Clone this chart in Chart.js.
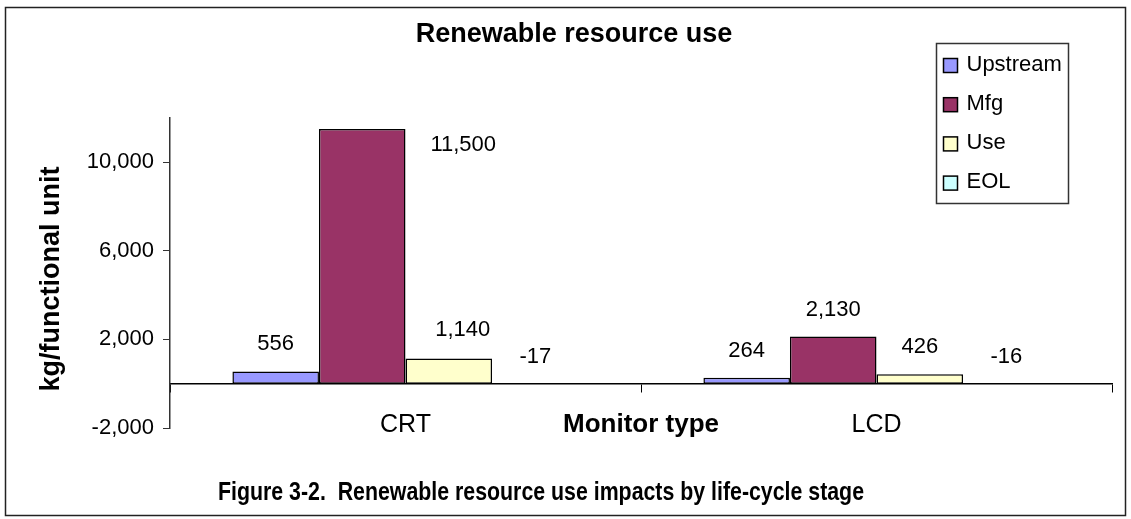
<!DOCTYPE html>
<html>
<head>
<meta charset="utf-8">
<script src="https://cdn.jsdelivr.net/npm/chart.js@4.4.1/dist/chart.umd.min.js"></script>
<style>
  html, body { margin: 0; padding: 0; background: #fff; }
  canvas { display: block; }
</style>
</head>
<body>
<canvas id="resource-chart" width="1131" height="519"></canvas>
<script>
// chart values
const categories = ['CRT', 'LCD'];
const stages = ['Upstream', 'Mfg', 'Use', 'EOL'];
const upstream = [556, 264];
const mfg = [11500, 2130];
const use = [1140, 426];
const eol = [-17, -16];
const yTicks = [-2000, 2000, 6000, 10000];

const stageColors = ['#9999ff', '#993366', '#ffffcc', '#ccffff'];
const font = 'Arial, "Liberation Sans", sans-serif';

// hand-moved data labels (dataset,index) -> offset from bar top
const labelShift = {
    '1,0': { dx: 101, dy: 16 },
    '2,0': { dx: 14, dy: -29 }
};

function fmt(v) {
    return v.toLocaleString('en-US');
}

const extras = {
    id: 'extras',
    afterDatasetsDraw(chart) {
        const ctx = chart.ctx;
        ctx.save();
        ctx.font = '22px ' + font;
        ctx.fillStyle = '#000';
        ctx.textAlign = 'center';
        ctx.textBaseline = 'middle';
        chart.data.datasets.forEach((ds, i) => {
            chart.getDatasetMeta(i).data.forEach((bar, j) => {
                const top = Math.min(bar.y, bar.base);
                const s = labelShift[i + ',' + j] || { dx: 0, dy: -27 };
                ctx.fillText(fmt(ds.data[j]), bar.x + s.dx, top + s.dy);
            });
        });
        ctx.restore();
    },
    afterDraw(chart) {
        const ctx = chart.ctx;
        const area = chart.chartArea;
        const zeroY = chart.scales.y.getPixelForValue(0);
        ctx.save();

        // outer frame
        ctx.strokeStyle = '#222';
        ctx.lineWidth = 1.5;
        ctx.strokeRect(5.5, 7.5, 1120, 508);

        ctx.fillStyle = '#000';
        ctx.textAlign = 'center';
        ctx.textBaseline = 'middle';

        // chart title
        ctx.font = 'bold 27px ' + font;
        ctx.fillText('Renewable resource use', 574, 35);

        // y axis title
        ctx.save();
        ctx.translate(52, 279);
        ctx.rotate(-Math.PI / 2);
        ctx.fillText('kg/functional unit', 0, 0);
        ctx.restore();

        // x axis title sits on the category label line
        ctx.font = 'bold 26px ' + font;
        ctx.fillText('Monitor type', (area.left + area.right) / 2, zeroY + 41);

        // caption
        ctx.font = 'bold 25px ' + font;
        ctx.textAlign = 'left';
        ctx.fillText('Figure 3-2.  Renewable resource use impacts by life-cycle stage', 218, 493, 646);

        // legend
        const lx = 936.5, ly = 43.5;
        ctx.strokeStyle = '#333';
        ctx.lineWidth = 1.5;
        ctx.strokeRect(lx, ly, 132, 160);
        ctx.font = '22px ' + font;
        chart.data.datasets.forEach((ds, i) => {
            const cy = ly + 22 + i * 39.2;
            ctx.fillStyle = ds.backgroundColor;
            ctx.fillRect(lx + 7, cy - 7, 14, 14);
            ctx.strokeStyle = '#000';
            ctx.lineWidth = 1.5;
            ctx.strokeRect(lx + 7, cy - 7, 14, 14);
            ctx.fillStyle = '#000';
            ctx.fillText(ds.label, lx + 30, cy - 1);
        });
        ctx.restore();
    }
};

const seriesValues = [upstream, mfg, use, eol];

new Chart(document.getElementById('resource-chart'), {
    type: 'bar',
    data: {
        labels: categories,
        datasets: stages.map((name, i) => ({
            label: name,
            data: seriesValues[i],
            backgroundColor: stageColors[i],
            borderColor: '#000',
            borderWidth: 1.5,
            borderSkipped: false,
            categoryPercentage: 0.735,
            barPercentage: 1
        }))
    },
    options: {
        responsive: false,
        animation: false,
        layout: {
            padding: { left: 17, right: 19, top: 118, bottom: 91 }
        },
        plugins: {
            legend: { display: false },
            tooltip: { enabled: false },
            title: { display: false }
        },
        scales: {
            x: {
                position: { y: 0 },
                grid: {
                    display: true,
                    drawOnChartArea: false,
                    drawTicks: true,
                    tickLength: 8,
                    color: '#000'
                },
                border: { display: true, color: '#000', width: 1.5 },
                ticks: {
                    color: '#000',
                    font: { family: font, size: 25 },
                    padding: 18
                }
            },
            y: {
                min: -2000,
                max: 12000,
                afterBuildTicks(s) {
                    s.ticks = yTicks.map(v => ({ value: v }));
                },
                afterFit(s) {
                    s.width = 153;
                },
                grid: {
                    display: true,
                    drawOnChartArea: false,
                    drawTicks: true,
                    tickLength: 7,
                    color: '#333'
                },
                border: { display: true, color: '#333', width: 1.5 },
                ticks: {
                    color: '#000',
                    font: { family: font, size: 22 },
                    padding: 9,
                    callback: v => fmt(v)
                }
            }
        }
    },
    plugins: [extras]
});
</script>
</body>
</html>
